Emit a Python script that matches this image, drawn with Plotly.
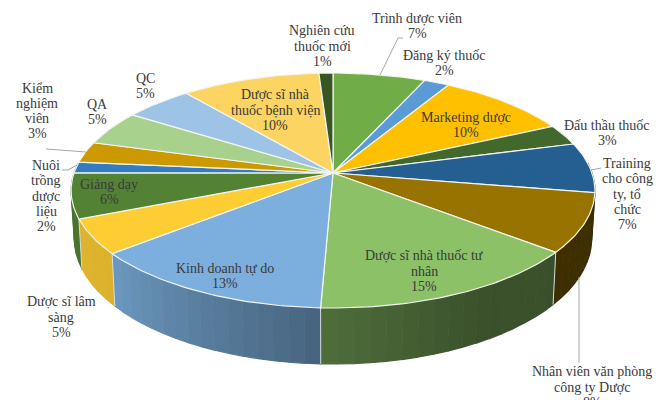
import numpy as np
import plotly.graph_objects as go

# ---- data (clockwise from 12 o'clock) ----
categories = ["Trình dược viên", "Đăng ký thuốc", "Marketing dược", "Đấu thầu thuốc",
              "Training cho công ty, tổ chức", "Nhân viên văn phòng công ty Dược",
              "Dược sĩ nhà thuốc tư nhân", "Kinh doanh tự do", "Dược sĩ lâm sàng",
              "Giảng dạy", "Nuôi trồng dược liệu", "Kiểm nghiệm viên", "QA", "QC",
              "Dược sĩ nhà thuốc bệnh viện", "Nghiên cứu thuốc mới"]
values = [6.6, 1.8, 9.5, 2.9, 6.9, 8.1, 14.9, 13.4, 4.8, 6.2, 1.5, 2.9, 4.8, 4.9, 9.9, 1.0]
percent_labels = ["7%", "2%", "10%", "3%", "7%", "8%", "15%", "13%", "5%", "6%", "2%", "3%", "5%", "5%", "10%", "1%"]

# ---- label text layout and styles (kept apart from data) ----
label_lines = [["Trình dược viên"], ["Đăng ký thuốc"], ["Marketing dược"], ["Đấu thầu thuốc"],
               ["Training", "cho công", "ty, tổ", "chức"], ["Nhân viên văn phòng", "công ty Dược"],
               ["Dược sĩ nhà thuốc tư", "nhân"], ["Kinh doanh tự do"], ["Dược sĩ lâm", "sàng"],
               ["Giảng dạy"], ["Nuôi", "trồng", "dược", "liệu"], ["Kiểm", "nghiệm", "viên"], ["QA"], ["QC"],
               ["Dược sĩ nhà", "thuốc bệnh viện"], ["Nghiên cứu", "thuốc mới"]]
label_xy = [(417, 26), (444, 63), (466, 125), (607, 133), (627, 194), (592, 387),
            (424, 271), (225, 276), (61, 317), (109, 192), (46, 196), (37, 111),
            (97, 112), (145, 86), (275, 110), (322, 46)]
colors = ["#70ad47", "#5b9bd5", "#ffc000", "#43682b", "#255e91", "#997300",
          "#8cc168", "#7cafdd", "#fdcd33", "#548235", "#327dc2", "#cc9a00",
          "#a9d18e", "#9dc3e6", "#fbd462", "#375623"]
leaders = [[(380, 75), (398, 38), (403, 38)], [(591, 170), (601, 168)],
           [(579, 277), (579, 363)], [(46, 149), (86, 152)], [(62, 170), (68, 170), (77, 165)]]
W, H = 660, 400
CX, CY, A, B, K = 333, 173, 114.9, 259, 0.149
TEXT = "#3a3a3a"
LINE_STEP = 15.3


def rim(theta):
    u, v = np.sin(theta), np.cos(theta)
    w = 1 + K * v
    return CX + B * u / w, CY - A * v / w


def lower(theta):
    x, y = rim(theta)
    return CX + 0.988 * (x - CX), y + 46 - 10 * np.cos(theta)


def shade(hex_color, f):
    r, g, b = [int(hex_color[i:i + 2], 16) for i in (1, 3, 5)]
    return f"rgb({int(r * f)},{int(g * f)},{int(b * f)})"


edges = np.cumsum([0] + values) / sum(values) * 2 * np.pi
fig = go.Figure()


def poly(xs, ys, fill):
    fig.add_trace(go.Scatter(x=xs, y=ys, mode="lines", fill="toself", fillcolor=fill,
                             line=dict(color=fill, width=1.2),
                             hoverinfo="skip", showlegend=False))


# side wall, sliced into narrow facets to carry the shading
for i, c in enumerate(colors):
    a0, a1 = max(edges[i], np.radians(85)), min(edges[i + 1], np.radians(275))
    if a1 <= a0:
        continue
    n = max(1, int(np.degrees(a1 - a0) / 3))
    steps = np.linspace(a0, a1, n + 1)
    for s0, s1 in zip(steps[:-1], steps[1:]):
        mid = np.degrees((s0 + s1) / 2)
        f = np.interp(mid, [85, 150, 182, 230, 275], [0.40, 0.42, 0.57, 0.87, 0.9])
        t = np.linspace(s0, s1, 4)
        xt, yt = rim(t)
        xb, yb = lower(t)
        poly(np.r_[xt, xb[::-1]], np.r_[yt, yb[::-1]], shade(c, f))

# seams between wall facets of different slices
for e in edges:
    if np.radians(100) < e < np.radians(260):
        xt, yt = rim(e)
        xb, yb = lower(e)
        fig.add_trace(go.Scatter(x=[xt, xb], y=[yt, yb], mode="lines",
                                 line=dict(color="#d5dde0", width=1),
                                 hoverinfo="skip", showlegend=False))

# top face
for i, c in enumerate(colors):
    t = np.linspace(edges[i], edges[i + 1], max(3, int(np.degrees(edges[i + 1] - edges[i])) + 2))
    xs, ys = rim(t)
    fig.add_trace(go.Scatter(x=np.r_[CX, xs, CX], y=np.r_[CY, ys, CY], mode="lines", fill="toself",
                             fillcolor=c, line=dict(color="#f2f5f2", width=1.2),
                             name=categories[i], hoverinfo="name", showlegend=False))

# leader lines
for pts in leaders:
    fig.add_trace(go.Scatter(x=[p[0] for p in pts], y=[p[1] for p in pts], mode="lines",
                             line=dict(color="#a6a6a6", width=1), hoverinfo="skip", showlegend=False))

# labels, one annotation per line to hold the tight line spacing
for lines, pct, (x, y) in zip(label_lines, percent_labels, label_xy):
    rows = lines + [pct]
    top = y - LINE_STEP * (len(rows) - 1) / 2
    for j, row in enumerate(rows):
        fig.add_annotation(xref="paper", yref="paper", x=x / W, y=1 - (top + j * LINE_STEP) / H,
                           text=row, showarrow=False, xanchor="center",
                           yanchor="middle", align="center",
                           font=dict(family="Liberation Serif", size=14, color=TEXT))

fig.update_xaxes(range=[0, W], visible=False, fixedrange=True)
fig.update_yaxes(range=[H, 0], visible=False, fixedrange=True)
fig.update_layout(width=W, height=H, margin=dict(l=0, r=0, t=0, b=0),
                  paper_bgcolor="white", plot_bgcolor="white")
fig.write_html("out.html", config=dict(displayModeBar=False),
               post_script="document.body.style.margin='0';")
